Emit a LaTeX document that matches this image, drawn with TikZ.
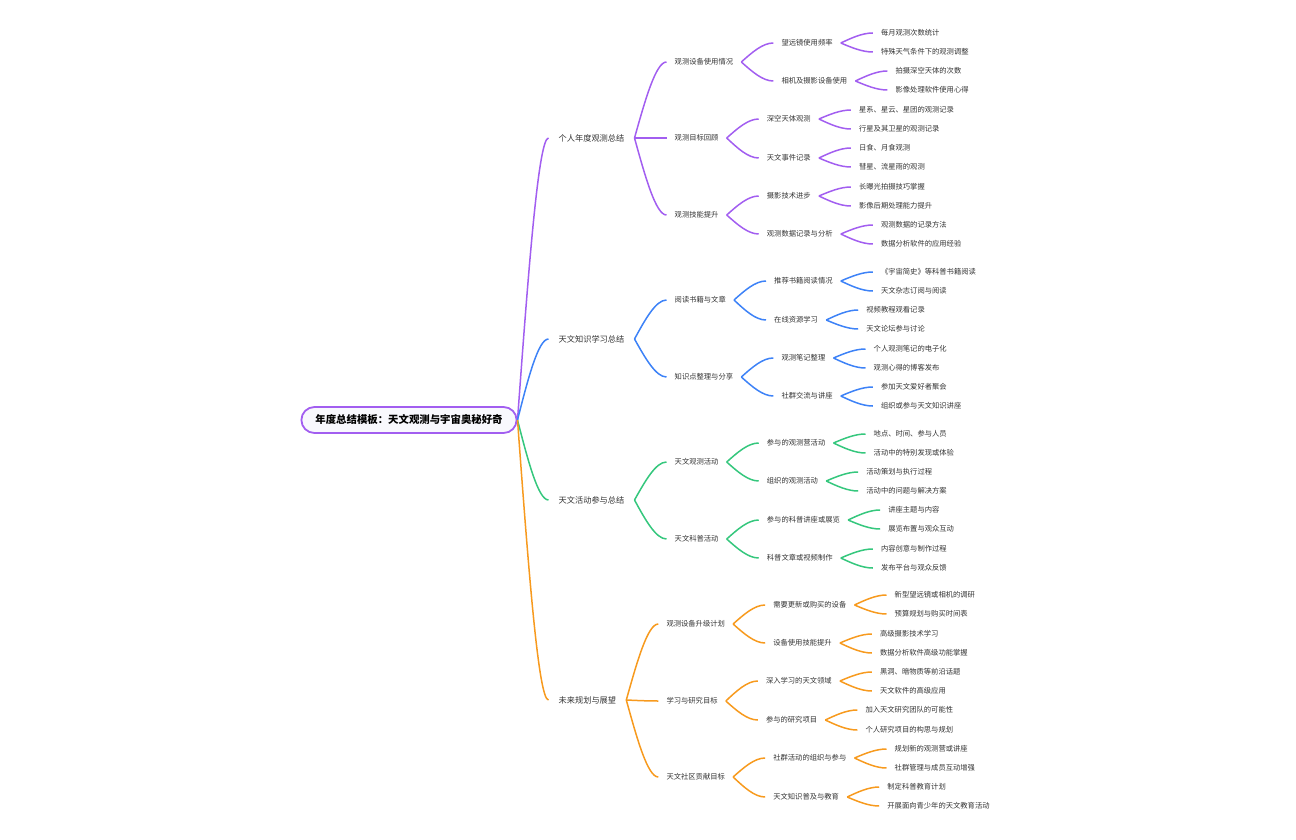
\documentclass[tikz,border=0pt]{standalone}
\usepackage{fontspec}
\setmainfont{Noto Sans CJK SC}
\usepackage{tikz}
\usetikzlibrary{positioning,calc}
\definecolor{cpurple}{HTML}{A25EF0}
\definecolor{cblue}{HTML}{3D82F7}
\definecolor{cgreen}{HTML}{35C77D}
\definecolor{corange}{HTML}{F79A1E}
\definecolor{rootfill}{HTML}{F8F8FD}
\definecolor{txt}{HTML}{333333}
\tikzset{
  root/.style={draw=cpurple, line width=1.8pt, fill=rootfill, rounded corners=13pt, minimum height=26pt, inner xsep=14pt, font=\fontsize{10.4}{12}\selectfont\bfseries},
  lone/.style={anchor=west, inner xsep=10pt, xshift=31pt, text=txt, font=\fontsize{8.2}{10}\selectfont},
  sub/.style={anchor=west, inner xsep=8pt, xshift=32pt, text=txt, font=\fontsize{7.3}{9}\selectfont},
  link/.style={to path={let \p1=(\tikztostart), \p2=(\tikztotarget) in .. controls ({\x1+(\x2-\x1)/3},{(\y1+\y2)/2}) and ({\x1+2*(\x2-\x1)/3},\y2) .. (\tikztotarget)}},
  cp/.style={draw=cpurple, line width=1.5pt},
  cb/.style={draw=cblue, line width=1.5pt},
  cg/.style={draw=cgreen, line width=1.5pt},
  co/.style={draw=corange, line width=1.5pt},
}
\begin{document}
\begin{tikzpicture}[x=1pt,y=-1pt]
\useasboundingbox (0,0) rectangle (1296,840);
\node[root] (root) at (409,420) {年度总结模板：天文观测与宇宙奥秘好奇};
% 个人年度观测总结
\node[lone] (sum) at (root.east |- 0,138) {个人年度观测总结};\draw[cp] (root.east) to[link] (sum.west);
\node[sub] (sumA) at (sum.east |- 0,62) {观测设备使用情况};\draw[cp] (sum.east) to[link] (sumA.west);
\node[sub] (sumA1) at (sumA.east |- 0,43) {望远镜使用频率};\draw[cp] (sumA.east) to[link] (sumA1.west);
\node[sub] (sumA1a) at (sumA1.east |- 0,33) {每月观测次数统计};\draw[cp] (sumA1.east) to[link] (sumA1a.west);
\node[sub] (sumA1b) at (sumA1.east |- 0,52) {特殊天气条件下的观测调整};\draw[cp] (sumA1.east) to[link] (sumA1b.west);
\node[sub] (sumA2) at (sumA.east |- 0,81) {相机及摄影设备使用};\draw[cp] (sumA.east) to[link] (sumA2.west);
\node[sub] (sumA2a) at (sumA2.east |- 0,71) {拍摄深空天体的次数};\draw[cp] (sumA2.east) to[link] (sumA2a.west);
\node[sub] (sumA2b) at (sumA2.east |- 0,90) {影像处理软件使用心得};\draw[cp] (sumA2.east) to[link] (sumA2b.west);
\node[sub] (sumB) at (sum.east |- 0,138) {观测目标回顾};\draw[cp] (sum.east) to[link] (sumB.west);
\node[sub] (sumB1) at (sumB.east |- 0,119) {深空天体观测};\draw[cp] (sumB.east) to[link] (sumB1.west);
\node[sub] (sumB1a) at (sumB1.east |- 0,110) {星系、星云、星团的观测记录};\draw[cp] (sumB1.east) to[link] (sumB1a.west);
\node[sub] (sumB1b) at (sumB1.east |- 0,129) {行星及其卫星的观测记录};\draw[cp] (sumB1.east) to[link] (sumB1b.west);
\node[sub] (sumB2) at (sumB.east |- 0,158) {天文事件记录};\draw[cp] (sumB.east) to[link] (sumB2.west);
\node[sub] (sumB2a) at (sumB2.east |- 0,148) {日食、月食观测};\draw[cp] (sumB2.east) to[link] (sumB2a.west);
\node[sub] (sumB2b) at (sumB2.east |- 0,167) {彗星、流星雨的观测};\draw[cp] (sumB2.east) to[link] (sumB2b.west);
\node[sub] (sumC) at (sum.east |- 0,215) {观测技能提升};\draw[cp] (sum.east) to[link] (sumC.west);
\node[sub] (sumC1) at (sumC.east |- 0,196) {摄影技术进步};\draw[cp] (sumC.east) to[link] (sumC1.west);
\node[sub] (sumC1a) at (sumC1.east |- 0,187) {长曝光拍摄技巧掌握};\draw[cp] (sumC1.east) to[link] (sumC1a.west);
\node[sub] (sumC1b) at (sumC1.east |- 0,206) {影像后期处理能力提升};\draw[cp] (sumC1.east) to[link] (sumC1b.west);
\node[sub] (sumC2) at (sumC.east |- 0,234) {观测数据记录与分析};\draw[cp] (sumC.east) to[link] (sumC2.west);
\node[sub] (sumC2a) at (sumC2.east |- 0,225) {观测数据的记录方法};\draw[cp] (sumC2.east) to[link] (sumC2a.west);
\node[sub] (sumC2b) at (sumC2.east |- 0,244) {数据分析软件的应用经验};\draw[cp] (sumC2.east) to[link] (sumC2b.west);
% 天文知识学习总结
\node[lone] (know) at (root.east |- 0,339) {天文知识学习总结};\draw[cb] (root.east) to[link] (know.west);
\node[sub] (knowA) at (know.east |- 0,300) {阅读书籍与文章};\draw[cb] (know.east) to[link] (knowA.west);
\node[sub] (knowA1) at (knowA.east |- 0,281) {推荐书籍阅读情况};\draw[cb] (knowA.east) to[link] (knowA1.west);
\node[sub] (knowA1a) at (knowA1.east |- 0,272) {《宇宙简史》等科普书籍阅读};\draw[cb] (knowA1.east) to[link] (knowA1a.west);
\node[sub] (knowA1b) at (knowA1.east |- 0,291) {天文杂志订阅与阅读};\draw[cb] (knowA1.east) to[link] (knowA1b.west);
\node[sub] (knowA2) at (knowA.east |- 0,320) {在线资源学习};\draw[cb] (knowA.east) to[link] (knowA2.west);
\node[sub] (knowA2a) at (knowA2.east |- 0,310) {视频教程观看记录};\draw[cb] (knowA2.east) to[link] (knowA2a.west);
\node[sub] (knowA2b) at (knowA2.east |- 0,329) {天文论坛参与讨论};\draw[cb] (knowA2.east) to[link] (knowA2b.west);
\node[sub] (knowB) at (know.east |- 0,377) {知识点整理与分享};\draw[cb] (know.east) to[link] (knowB.west);
\node[sub] (knowB1) at (knowB.east |- 0,358) {观测笔记整理};\draw[cb] (knowB.east) to[link] (knowB1.west);
\node[sub] (knowB1a) at (knowB1.east |- 0,349) {个人观测笔记的电子化};\draw[cb] (knowB1.east) to[link] (knowB1a.west);
\node[sub] (knowB1b) at (knowB1.east |- 0,368) {观测心得的博客发布};\draw[cb] (knowB1.east) to[link] (knowB1b.west);
\node[sub] (knowB2) at (knowB.east |- 0,396) {社群交流与讲座};\draw[cb] (knowB.east) to[link] (knowB2.west);
\node[sub] (knowB2a) at (knowB2.east |- 0,387) {参加天文爱好者聚会};\draw[cb] (knowB2.east) to[link] (knowB2a.west);
\node[sub] (knowB2b) at (knowB2.east |- 0,406) {组织或参与天文知识讲座};\draw[cb] (knowB2.east) to[link] (knowB2b.west);
% 天文活动参与总结
\node[lone] (act) at (root.east |- 0,500) {天文活动参与总结};\draw[cg] (root.east) to[link] (act.west);
\node[sub] (actA) at (act.east |- 0,462) {天文观测活动};\draw[cg] (act.east) to[link] (actA.west);
\node[sub] (actA1) at (actA.east |- 0,443) {参与的观测营活动};\draw[cg] (actA.east) to[link] (actA1.west);
\node[sub] (actA1a) at (actA1.east |- 0,434) {地点、时间、参与人员};\draw[cg] (actA1.east) to[link] (actA1a.west);
\node[sub] (actA1b) at (actA1.east |- 0,453) {活动中的特别发现或体验};\draw[cg] (actA1.east) to[link] (actA1b.west);
\node[sub] (actA2) at (actA.east |- 0,481) {组织的观测活动};\draw[cg] (actA.east) to[link] (actA2.west);
\node[sub] (actA2a) at (actA2.east |- 0,472) {活动策划与执行过程};\draw[cg] (actA2.east) to[link] (actA2a.west);
\node[sub] (actA2b) at (actA2.east |- 0,491) {活动中的问题与解决方案};\draw[cg] (actA2.east) to[link] (actA2b.west);
\node[sub] (actB) at (act.east |- 0,539) {天文科普活动};\draw[cg] (act.east) to[link] (actB.west);
\node[sub] (actB1) at (actB.east |- 0,520) {参与的科普讲座或展览};\draw[cg] (actB.east) to[link] (actB1.west);
\node[sub] (actB1a) at (actB1.east |- 0,510) {讲座主题与内容};\draw[cg] (actB1.east) to[link] (actB1a.west);
\node[sub] (actB1b) at (actB1.east |- 0,529) {展览布置与观众互动};\draw[cg] (actB1.east) to[link] (actB1b.west);
\node[sub] (actB2) at (actB.east |- 0,558) {科普文章或视频制作};\draw[cg] (actB.east) to[link] (actB2.west);
\node[sub] (actB2a) at (actB2.east |- 0,549) {内容创意与制作过程};\draw[cg] (actB2.east) to[link] (actB2a.west);
\node[sub] (actB2b) at (actB2.east |- 0,568) {发布平台与观众反馈};\draw[cg] (actB2.east) to[link] (actB2b.west);
% 未来规划与展望
\node[lone] (plan) at (root.east |- 0,700) {未来规划与展望};\draw[co] (root.east) to[link] (plan.west);
\node[sub] (planA) at (plan.east |- 0,624) {观测设备升级计划};\draw[co] (plan.east) to[link] (planA.west);
\node[sub] (planA1) at (planA.east |- 0,605) {需要更新或购买的设备};\draw[co] (planA.east) to[link] (planA1.west);
\node[sub] (planA1a) at (planA1.east |- 0,595) {新型望远镜或相机的调研};\draw[co] (planA1.east) to[link] (planA1a.west);
\node[sub] (planA1b) at (planA1.east |- 0,614) {预算规划与购买时间表};\draw[co] (planA1.east) to[link] (planA1b.west);
\node[sub] (planA2) at (planA.east |- 0,643) {设备使用技能提升};\draw[co] (planA.east) to[link] (planA2.west);
\node[sub] (planA2a) at (planA2.east |- 0,634) {高级摄影技术学习};\draw[co] (planA2.east) to[link] (planA2a.west);
\node[sub] (planA2b) at (planA2.east |- 0,653) {数据分析软件高级功能掌握};\draw[co] (planA2.east) to[link] (planA2b.west);
\node[sub] (planB) at (plan.east |- 0,701) {学习与研究目标};\draw[co] (plan.east) to[link] (planB.west);
\node[sub] (planB1) at (planB.east |- 0,681) {深入学习的天文领域};\draw[co] (planB.east) to[link] (planB1.west);
\node[sub] (planB1a) at (planB1.east |- 0,672) {黑洞、暗物质等前沿话题};\draw[co] (planB1.east) to[link] (planB1a.west);
\node[sub] (planB1b) at (planB1.east |- 0,691) {天文软件的高级应用};\draw[co] (planB1.east) to[link] (planB1b.west);
\node[sub] (planB2) at (planB.east |- 0,720) {参与的研究项目};\draw[co] (planB.east) to[link] (planB2.west);
\node[sub] (planB2a) at (planB2.east |- 0,710) {加入天文研究团队的可能性};\draw[co] (planB2.east) to[link] (planB2a.west);
\node[sub] (planB2b) at (planB2.east |- 0,730) {个人研究项目的构思与规划};\draw[co] (planB2.east) to[link] (planB2b.west);
\node[sub] (planC) at (plan.east |- 0,777) {天文社区贡献目标};\draw[co] (plan.east) to[link] (planC.west);
\node[sub] (planC1) at (planC.east |- 0,758) {社群活动的组织与参与};\draw[co] (planC.east) to[link] (planC1.west);
\node[sub] (planC1a) at (planC1.east |- 0,749) {规划新的观测营或讲座};\draw[co] (planC1.east) to[link] (planC1a.west);
\node[sub] (planC1b) at (planC1.east |- 0,768) {社群管理与成员互动增强};\draw[co] (planC1.east) to[link] (planC1b.west);
\node[sub] (planC2) at (planC.east |- 0,797) {天文知识普及与教育};\draw[co] (planC.east) to[link] (planC2.west);
\node[sub] (planC2a) at (planC2.east |- 0,787) {制定科普教育计划};\draw[co] (planC2.east) to[link] (planC2a.west);
\node[sub] (planC2b) at (planC2.east |- 0,806) {开展面向青少年的天文教育活动};\draw[co] (planC2.east) to[link] (planC2b.west);
\end{tikzpicture}
\end{document}
